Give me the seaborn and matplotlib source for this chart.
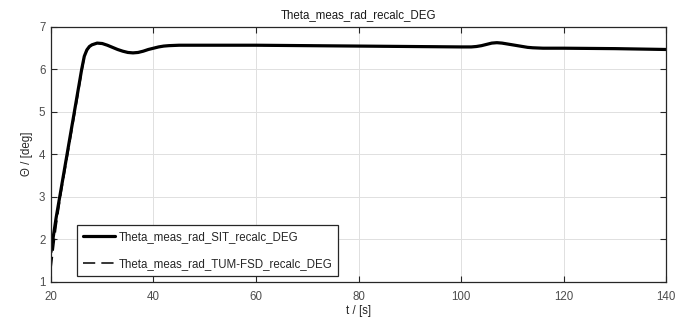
import numpy as np
import pandas as pd
import matplotlib
matplotlib.use("Agg")
import matplotlib.pyplot as plt
import seaborn as sns

# time axis [s] and pitch angle values [deg]
t_sit = [20, 21, 22, 23, 24, 25, 26, 26.5, 27, 27.5, 28, 29, 30, 31, 32, 33, 34,
         35, 36, 37, 38, 39, 40, 41, 42, 43, 45, 50, 60, 70, 80, 90, 100, 102,
         103, 104, 105, 106, 107, 108, 109, 110, 111, 112, 113, 114, 116, 120,
         130, 140]
theta_sit = [1.70, 2.50, 3.20, 3.90, 4.60, 5.30, 6.00, 6.30, 6.45, 6.53, 6.57,
             6.61, 6.60, 6.56, 6.51, 6.46, 6.42, 6.39, 6.38, 6.39, 6.42, 6.46,
             6.49, 6.52, 6.54, 6.55, 6.56, 6.56, 6.56, 6.55, 6.54, 6.53, 6.52,
             6.52, 6.53, 6.55, 6.58, 6.61, 6.62, 6.61, 6.59, 6.57, 6.55, 6.53,
             6.51, 6.50, 6.49, 6.49, 6.48, 6.46]

t_tum = [20, 21, 22, 23, 24, 25, 26, 26.5, 27, 27.5, 28, 29, 30, 31, 32, 33, 34,
         35, 36, 37, 38, 39, 40, 41, 42, 43, 45, 50, 60, 70, 80, 90, 100, 102,
         103, 104, 105, 106, 107, 108, 109, 110, 111, 112, 113, 114, 116, 120,
         130, 140]
theta_tum = [1.30, 2.30, 3.10, 3.80, 4.50, 5.20, 5.92, 6.26, 6.43, 6.52, 6.57,
             6.61, 6.60, 6.56, 6.51, 6.46, 6.42, 6.39, 6.38, 6.39, 6.42, 6.46,
             6.49, 6.52, 6.54, 6.55, 6.56, 6.56, 6.56, 6.55, 6.54, 6.53, 6.52,
             6.52, 6.53, 6.55, 6.58, 6.61, 6.62, 6.61, 6.59, 6.57, 6.55, 6.53,
             6.51, 6.50, 6.49, 6.49, 6.48, 6.46]

label_sit = "Theta_meas_rad_SIT_recalc_DEG"
label_tum = "Theta_meas_rad_TUM-FSD_recalc_DEG"
x_ticks = [20, 40, 60, 80, 100, 120, 140]
y_ticks = [1, 2, 3, 4, 5, 6, 7]

sns.set_theme(style="whitegrid")
plt.rcParams["font.family"] = ["Liberation Sans", "DejaVu Sans"]

df_sit = pd.DataFrame({"t": t_sit, "theta": theta_sit})
df_tum = pd.DataFrame({"t": t_tum, "theta": theta_tum})

fig = plt.figure(figsize=(6.77, 3.21), dpi=100)
ax = fig.add_axes([0.0753, 0.1224, 0.9085, 0.795])

sns.lineplot(data=df_sit, x="t", y="theta", ax=ax, color="black",
             linewidth=2.3, label=label_sit)
sns.lineplot(data=df_tum, x="t", y="theta", ax=ax, color="black",
             linewidth=1.1, label=label_tum)
ax.lines[1].set_dashes([8, 4])

ax.set_xlim(20, 140)
ax.set_ylim(1, 7)
ax.set_xticks(x_ticks)
ax.set_yticks(y_ticks)

ax.grid(True, color="#e0e0e0", linewidth=0.7)
ax.set_facecolor("white")
for side in ["left", "right", "top", "bottom"]:
    ax.spines[side].set_visible(True)
    ax.spines[side].set_color("#262626")
    ax.spines[side].set_linewidth(0.9)

ax.tick_params(axis="both", direction="in", length=4, width=0.8,
               color="#262626", labelsize=8.3, labelcolor="#4d4d4d",
               top=True, right=True, bottom=True, left=True)
ax.tick_params(axis="x", pad=7)
ax.tick_params(axis="y", pad=4)

ax.set_title("Theta_meas_rad_recalc_DEG", fontsize=8.3, color="#1a1a1a", pad=6)
ax.set_xlabel("t / [s]", fontsize=8.3, color="#262626", labelpad=1)
ax.set_ylabel("Θ / [deg]", fontsize=8.3, color="#262626", labelpad=4)

leg = ax.legend(loc="lower left", bbox_to_anchor=(0.0423, 0.022),
                fontsize=8.3, frameon=True, fancybox=False, framealpha=1,
                edgecolor="#262626", handlelength=2.8, borderpad=0.5,
                labelspacing=1.35, handletextpad=0.3, borderaxespad=0.0)
leg.get_frame().set_linewidth(0.9)
for txt in leg.get_texts():
    txt.set_color("#262626")

fig.savefig("out.png", dpi=100, facecolor="white")
